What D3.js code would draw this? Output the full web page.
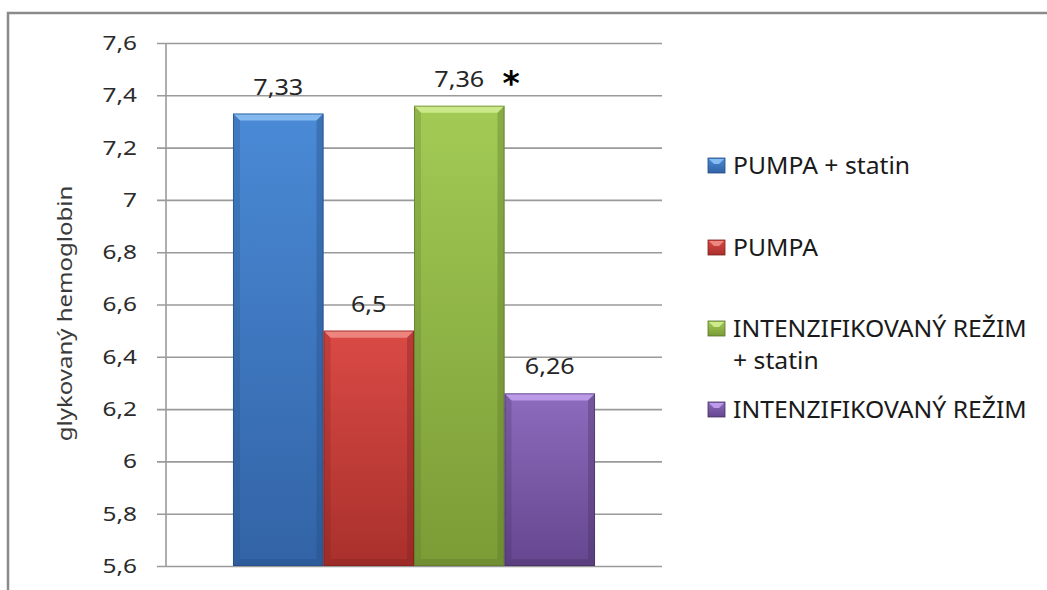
<!DOCTYPE html>
<html>
<head>
<meta charset="utf-8">
<script src="https://cdn.jsdelivr.net/npm/d3@7"></script>
<style>
  html, body { margin: 0; padding: 0; background: #fff; }
  svg { display: block; font-family: "Noto Sans", "DejaVu Sans", sans-serif; }
</style>
</head>
<body>
<svg id="chart" width="1047" height="590"></svg>
<script>
// Glycated haemoglobin by treatment group
const seriesNames = ["PUMPA + statin", "PUMPA", "INTENZIFIKOVANÝ REŽIM + statin", "INTENZIFIKOVANÝ REŽIM"];
const legendLines = [["PUMPA + statin"], ["PUMPA"], ["INTENZIFIKOVANÝ REŽIM", "+ statin"], ["INTENZIFIKOVANÝ REŽIM"]];
const values = [7.33, 6.5, 7.36, 6.26];
const valueLabels = ["7,33", "6,5", "7,36", "6,26"];
const significance = ["", "", "*", ""];
const yTicks = [5.6, 5.8, 6.0, 6.2, 6.4, 6.6, 6.8, 7.0, 7.2, 7.4, 7.6];
const yTitle = "glykovaný hemoglobin";
const colors = [
  { top: "#4a8ad6", bottom: "#3263a6", light: "#8ec2f5", dark: "#234a80" },
  { top: "#da4a45", bottom: "#a9302c", light: "#f08e88", dark: "#7d201d" },
  { top: "#a2cb55", bottom: "#7b9b36", light: "#d3ef93", dark: "#58722a" },
  { top: "#8d6bbd", bottom: "#65468f", light: "#c3a2f0", dark: "#45305f" }
];

const svg = d3.select("#chart");
const plot = { left: 166, right: 662, top: 43, bottom: 566, tickLeft: 157 };
const sx = 1.2;   // horizontal stretch of the wide label face

// Chart frame (top and left edges visible in the window)
svg.append("rect")
  .attr("x", 8).attr("y", 13).attr("width", 1200).attr("height", 700)
  .attr("fill", "#fff").attr("stroke", "#8a8a8a").attr("stroke-width", 2.5);

const y = d3.scaleLinear().domain([5.6, 7.6]).range([plot.bottom, plot.top]);
const x0 = d3.scaleBand().domain(["g"]).range([plot.left, plot.right]).paddingInner(0).paddingOuter(0.185);
const x1 = d3.scaleBand().domain(seriesNames).range([0, x0.bandwidth()]).padding(0);

const fmt = d => String(+d.toFixed(1)).replace(".", ",");

// Gridlines and tick labels
const axis = d3.axisLeft(y)
  .tickValues(yTicks)
  .tickSizeInner(-(plot.right - plot.tickLeft))
  .tickSizeOuter(0)
  .tickPadding(20)
  .tickFormat(fmt);

const gAxis = svg.append("g")
  .attr("transform", `translate(${plot.tickLeft},0)`)
  .call(axis);
gAxis.select(".domain").remove();
gAxis.selectAll(".tick line").attr("stroke", "#9a9a9a").attr("stroke-width", 1.6);
gAxis.selectAll(".tick text")
  .attr("x", -20 / 1.22)
  .attr("transform", "scale(1.22,1)")
  .attr("fill", "#2b2b2b")
  .style("font-size", "20px")
  .style("font-family", "'Noto Sans', sans-serif");

// Vertical axis line
svg.append("line")
  .attr("x1", plot.left).attr("x2", plot.left)
  .attr("y1", y.range()[1]).attr("y2", y.range()[0])
  .attr("stroke", "#9a9a9a").attr("stroke-width", 1.6);

// Axis title
svg.append("text")
  .attr("transform", `translate(72,${(plot.top + plot.bottom) / 2 + 9}) rotate(-90) scale(1.2,1)`)
  .attr("text-anchor", "middle")
  .attr("fill", "#3a3a3a")
  .style("font-size", "20px")
  .text(yTitle);

// Gradients
const defs = svg.append("defs");
colors.forEach((c, i) => {
  const g = defs.append("linearGradient")
    .attr("id", "grad" + i).attr("x1", 0).attr("y1", 0).attr("x2", 0).attr("y2", 1);
  g.append("stop").attr("offset", "0%").attr("stop-color", c.top);
  g.append("stop").attr("offset", "100%").attr("stop-color", c.bottom);
});

// Bars with bevelled edges
const bars = svg.append("g").selectAll("g.bar")
  .data(values)
  .join("g").attr("class", "bar");

const bev = 7;
bars.each(function (v, i) {
  const g = d3.select(this);
  const xa = x0("g") + x1(seriesNames[i]);
  const xb = xa + x1.bandwidth();
  const yt = y(v);
  const yb = y(5.6);
  const c = colors[i];
  g.append("rect")
    .attr("x", xa).attr("y", yt).attr("width", xb - xa).attr("height", yb - yt)
    .attr("fill", `url(#grad${i})`);
  // top bevel
  g.append("polygon")
    .attr("points", [[xa, yt], [xb, yt], [xb - bev, yt + bev], [xa + bev, yt + bev]].map(p => p.join(",")).join(" "))
    .attr("fill", c.light).attr("opacity", 0.85);
  // side bevels
  g.append("polygon")
    .attr("points", [[xa, yt], [xa + bev, yt + bev], [xa + bev, yb - bev], [xa, yb]].map(p => p.join(",")).join(" "))
    .attr("fill", c.dark).attr("opacity", 0.25);
  g.append("polygon")
    .attr("points", [[xb, yt], [xb - bev, yt + bev], [xb - bev, yb - bev], [xb, yb]].map(p => p.join(",")).join(" "))
    .attr("fill", c.dark).attr("opacity", 0.35);
  g.append("polygon")
    .attr("points", [[xa, yb], [xa + bev, yb - bev], [xb - bev, yb - bev], [xb, yb]].map(p => p.join(",")).join(" "))
    .attr("fill", c.dark).attr("opacity", 0.3);
  g.append("rect")
    .attr("x", xa + 0.5).attr("y", yt + 0.5).attr("width", xb - xa - 1).attr("height", yb - yt - 1)
    .attr("fill", "none").attr("stroke", c.dark).attr("stroke-opacity", 0.6).attr("stroke-width", 1);
});

// Value labels
svg.append("g").selectAll("text.val")
  .data(values)
  .join("text").attr("class", "val")
  .attr("transform", (v, i) =>
    `translate(${x0("g") + x1(seriesNames[i]) + x1.bandwidth() / 2},${y(v) - 19}) scale(${sx},1)`)
  .attr("text-anchor", "middle")
  .attr("fill", "#262626")
  .style("font-size", "21px")
  .text((v, i) => valueLabels[i]);

// Significance marks
svg.append("g").selectAll("text.sig")
  .data(values)
  .join("text").attr("class", "sig")
  .attr("x", (v, i) => x0("g") + x1(seriesNames[i]) + x1.bandwidth() / 2 + 52)
  .attr("y", v => y(v) - 11)
  .attr("text-anchor", "middle")
  .attr("fill", "#000")
  .style("font-family", "'DejaVu Sans', sans-serif")
  .style("font-size", "33px")
  .style("font-weight", "bold")
  .text((v, i) => significance[i]);

// Legend
const legendY = [174, 256, 337, 418];
const legend = svg.append("g").selectAll("g.leg")
  .data(seriesNames)
  .join("g").attr("class", "leg")
  .attr("transform", (d, i) => `translate(708,${legendY[i]})`);

legend.append("rect")
  .attr("x", 0).attr("y", -16).attr("width", 17).attr("height", 15)
  .attr("fill", (d, i) => `url(#grad${i})`)
  .attr("stroke", (d, i) => colors[i].dark).attr("stroke-width", 0.8);
legend.append("polygon")
  .attr("points", "1,-15 16,-15 11,-10 6,-10")
  .attr("fill", (d, i) => colors[i].light).attr("opacity", 0.9);

const legSx = 1.075;
legend.each(function (d, i) {
  const t = d3.select(this).append("text")
    .attr("transform", `translate(25,0) scale(${legSx},1)`)
    .attr("fill", "#1a1a1a")
    .style("font-size", "23px");
  legendLines[i].forEach((line, k) => {
    t.append("tspan").attr("x", 0).attr("dy", k === 0 ? 0 : 32).text(line);
  });
});
</script>
</body>
</html>
